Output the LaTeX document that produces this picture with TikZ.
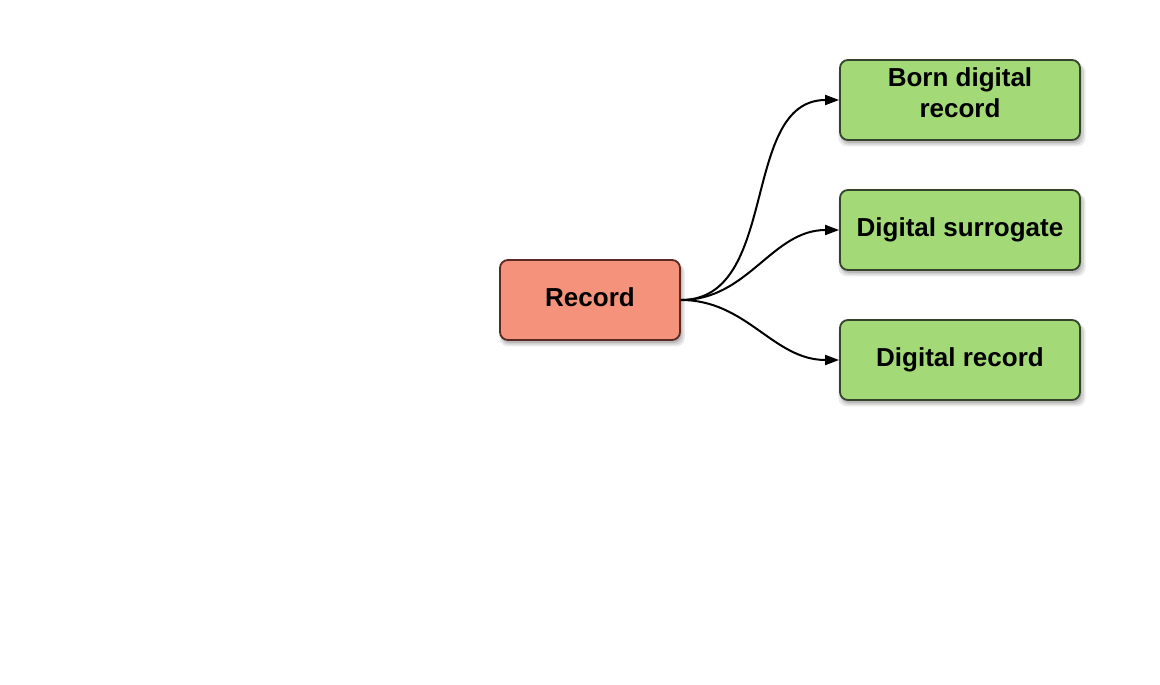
\documentclass[tikz,border=0pt]{standalone}
\usepackage{fontspec}
\setmainfont{Liberation Sans}
\usetikzlibrary{arrows.meta,shadows}
\definecolor{recfill}{HTML}{F4927B}
\definecolor{recline}{HTML}{5A2A22}
\definecolor{grfill}{HTML}{A3D977}
\definecolor{grline}{HTML}{34432A}
\tikzset{
  boxshadow/.style={
    drop shadow={shadow xshift=2pt,shadow yshift=-5pt,shadow scale=1.03,opacity=0.08,fill=black},
    drop shadow={shadow xshift=2pt,shadow yshift=-4pt,shadow scale=1.015,opacity=0.1,fill=black},
    drop shadow={shadow xshift=1.5pt,shadow yshift=-3pt,opacity=0.12,fill=black}},
  recbox/.style={draw=recline,fill=recfill,line width=1.8pt,rounded corners=8pt,
    minimum width=180pt,minimum height=80pt,boxshadow},
  grbox/.style={draw=grline,fill=grfill,line width=1.8pt,rounded corners=8pt,
    minimum width=240pt,minimum height=80pt,boxshadow},
  lbl/.style={font=\fontsize{26}{31}\selectfont\bfseries,align=center,inner sep=0pt},
  conn/.style={line width=2pt,-{Triangle[length=14pt,width=10pt]}}
}
\begin{document}
\begin{tikzpicture}[x=1pt,y=-1pt]
\useasboundingbox (0,0) rectangle (1160,685);
\node[recbox] (rec) at (590,300) {};
\node[lbl] (rt) at (590,297) {Record};
\node[grbox] (b1) at (960,100) {};
\node[lbl] (t1) at (960,93) {Born digital\\record};
\node[grbox,lbl] (b2) at (960,230) {Digital surrogate};
\node[grbox,lbl] (b3) at (960,360) {Digital record};
\draw[conn] (rec.east) to[out=0,in=180] (b1.west);
\draw[conn] (rec.east) to[out=0,in=180] (b2.west);
\draw[conn] (rec.east) to[out=0,in=180] (b3.west);
\end{tikzpicture}
\end{document}
